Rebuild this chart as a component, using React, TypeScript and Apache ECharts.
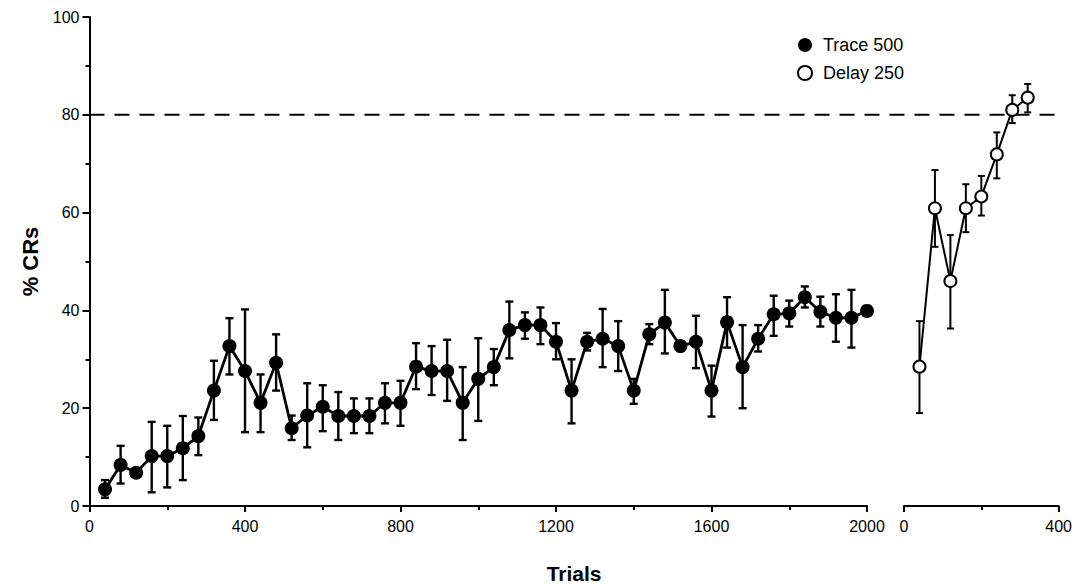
import React, { useEffect, useRef } from "react";
import * as echarts from "echarts";

// Trace 500 (left panel)
const traceTrials = [40, 80, 120, 160, 200, 240, 280, 320, 360, 400, 440, 480, 520, 560, 600, 640, 680, 720, 760, 800, 840, 880, 920, 960, 1000, 1040, 1080, 1120, 1160, 1200, 1240, 1280, 1320, 1360, 1400, 1440, 1480, 1520, 1560, 1600, 1640, 1680, 1720, 1760, 1800, 1840, 1880, 1920, 1960, 2000];
const traceMean = [3.4, 8.4, 6.8, 10.2, 10.2, 11.8, 14.3, 23.6, 32.7, 27.6, 21.1, 29.3, 15.9, 18.5, 20.3, 18.4, 18.4, 18.4, 21.1, 21.1, 28.5, 27.6, 27.6, 21.1, 26.0, 28.4, 36.0, 37.0, 37.0, 33.6, 23.6, 33.6, 34.2, 32.7, 23.6, 35.1, 37.5, 32.7, 33.6, 23.6, 37.6, 28.4, 34.2, 39.2, 39.4, 42.7, 39.7, 38.5, 38.5, 39.9];
const traceLow = [1.7, 4.6, 6.3, 2.8, 3.8, 5.3, 10.4, 17.6, 26.9, 15.1, 15.1, 23.6, 13.5, 12.0, 15.3, 13.5, 14.9, 14.9, 16.9, 16.4, 23.9, 22.7, 21.5, 13.5, 17.4, 24.7, 30.2, 34.2, 33.1, 30.0, 16.9, 31.8, 28.4, 27.6, 20.9, 33.1, 31.2, 31.8, 28.2, 18.3, 32.4, 20.0, 31.6, 34.8, 36.7, 40.6, 36.7, 33.6, 32.4, 38.9];
const traceHigh = [5.3, 12.3, 7.3, 17.2, 16.4, 18.4, 18.1, 29.7, 38.4, 40.2, 26.9, 35.1, 18.5, 25.1, 24.7, 23.3, 22.0, 22.0, 25.1, 25.6, 33.3, 32.7, 34.0, 28.4, 34.3, 32.1, 41.8, 39.6, 40.6, 37.4, 30.0, 35.4, 40.3, 37.8, 26.0, 37.2, 44.2, 33.6, 38.9, 28.7, 42.7, 37.0, 37.0, 43.0, 42.0, 44.9, 42.8, 43.3, 44.2, 40.9];

// Delay 250 (right panel)
const delayTrials = [40, 80, 120, 160, 200, 240, 280, 320];
const delayMean = [28.5, 60.9, 46.0, 60.9, 63.3, 71.9, 81.0, 83.5];
const delayLow = [19.0, 53.0, 36.3, 56.0, 59.4, 67.0, 78.3, 80.5];
const delayHigh = [37.8, 68.7, 55.4, 65.8, 67.5, 76.4, 84.0, 86.3];

const criterion = 80;
const yTitle = "% CRs";
const xTitle = "Trials";

const FONT = "'Liberation Sans', Arial, Helvetica, sans-serif";

function errorRenderer(lineWidth: number, capHalf: number) {
  return (params: any, api: any) => {
    const x = api.value(0);
    const lo = api.value(1);
    const hi = api.value(2);
    const pHi = api.coord([x, hi]);
    const pLo = api.coord([x, lo]);
    const style = { stroke: "#000", lineWidth };
    return {
      type: "group",
      children: [
        { type: "line", shape: { x1: pHi[0], y1: pHi[1], x2: pLo[0], y2: pLo[1] }, style },
        { type: "line", shape: { x1: pHi[0] - capHalf, y1: pHi[1], x2: pHi[0] + capHalf, y2: pHi[1] }, style },
        { type: "line", shape: { x1: pLo[0] - capHalf, y1: pLo[1], x2: pLo[0] + capHalf, y2: pLo[1] }, style },
      ],
    };
  };
}

export default function App() {
  const ref = useRef<HTMLDivElement>(null);
  useEffect(() => {
    if (!ref.current) return;
    const chart = echarts.init(ref.current, undefined, { renderer: "svg" });
    const axisLine = { show: true, onZero: false, lineStyle: { color: "#000", width: 2 } };
    const axisLabel = { color: "#000", fontSize: 16, fontFamily: FONT, formatter: (v: number) => String(v) };
    const option: any = {
      animation: false,
      backgroundColor: "#fff",
      textStyle: { fontFamily: FONT },
      grid: [
        { left: 89.5, top: 17, width: 777.5, height: 489 },
        { left: 904, top: 17, width: 156, height: 489 },
      ],
      xAxis: [
        {
          type: "value", gridIndex: 0, min: 0, max: 2000, interval: 400,
          axisLine, splitLine: { show: false },
          axisTick: { show: true, inside: false, length: 6, lineStyle: { color: "#000", width: 2 } },
          minorTick: { show: true, splitNumber: 2, length: 4, lineStyle: { color: "#000", width: 2 } },
          axisLabel: { ...axisLabel, margin: 12 },
        },
        {
          type: "value", gridIndex: 1, min: 0, max: 400, interval: 400,
          axisLine, splitLine: { show: false },
          axisTick: { show: true, inside: false, length: 6, lineStyle: { color: "#000", width: 2 } },
          minorTick: { show: true, splitNumber: 2, length: 4, lineStyle: { color: "#000", width: 2 } },
          axisLabel: { ...axisLabel, margin: 12 },
        },
      ],
      yAxis: [
        {
          type: "value", gridIndex: 0, min: 0, max: 100, interval: 20,
          axisLine, splitLine: { show: false },
          axisTick: { show: true, inside: false, length: 7, lineStyle: { color: "#000", width: 2 } },
          minorTick: { show: true, splitNumber: 2, length: 4, lineStyle: { color: "#000", width: 2 } },
          axisLabel: { ...axisLabel, margin: 10 },
        },
        { type: "value", gridIndex: 1, min: 0, max: 100, show: false },
      ],
      legend: {
        orient: "vertical",
        left: 797,
        top: 36,
        padding: 0,
        itemWidth: 14,
        itemHeight: 14,
        itemGap: 10,
        selectedMode: false,
        textStyle: { fontSize: 18, color: "#000", fontFamily: FONT, padding: [0, 0, 0, 6] },
        data: [
          { name: "Trace 500", icon: "circle", itemStyle: { color: "#000", borderWidth: 0 } },
          { name: "Delay 250", icon: "circle", itemStyle: { color: "#fff", borderColor: "#000", borderWidth: 2 } },
        ],
      },
      series: [
        {
          name: "Trace 500 error",
          type: "custom",
          xAxisIndex: 0, yAxisIndex: 0,
          renderItem: errorRenderer(2.4, 4),
          encode: { x: 0, y: [1, 2] },
          data: traceTrials.map((t, i) => [t, traceLow[i], traceHigh[i]]),
          z: 1,
          silent: true,
        },
        {
          name: "Trace 500",
          type: "line",
          xAxisIndex: 0, yAxisIndex: 0,
          data: traceTrials.map((t, i) => [t, traceMean[i]]),
          symbol: "circle",
          symbolSize: 14,
          lineStyle: { color: "#000", width: 2.8 },
          itemStyle: { color: "#000" },
          z: 2,
        },
        {
          name: "Delay 250 error",
          type: "custom",
          xAxisIndex: 1, yAxisIndex: 1,
          renderItem: errorRenderer(2, 3.5),
          encode: { x: 0, y: [1, 2] },
          data: delayTrials.map((t, i) => [t, delayLow[i], delayHigh[i]]),
          z: 1,
          silent: true,
        },
        {
          name: "Delay 250",
          type: "line",
          xAxisIndex: 1, yAxisIndex: 1,
          data: delayTrials.map((t, i) => [t, delayMean[i]]),
          symbol: "circle",
          symbolSize: 12,
          lineStyle: { color: "#000", width: 2 },
          itemStyle: { color: "#fff", borderColor: "#000", borderWidth: 2 },
          z: 2,
        },
      ],
    };
    chart.setOption(option);

    const xStart = chart.convertToPixel({ xAxisIndex: 0 }, 0) as number;
    const xEnd = chart.convertToPixel({ xAxisIndex: 1 }, 400) as number;
    const yCrit = chart.convertToPixel({ yAxisIndex: 0 }, criterion) as number;
    const yMid = ((chart.convertToPixel({ yAxisIndex: 0 }, 0) as number) + (chart.convertToPixel({ yAxisIndex: 0 }, 100) as number)) / 2;
    const xMid = ((chart.convertToPixel({ xAxisIndex: 0 }, 0) as number) + (chart.convertToPixel({ xAxisIndex: 1 }, 400) as number)) / 2;

    chart.setOption({
      graphic: [
        {
          type: "line",
          z: 0,
          shape: { x1: xStart, y1: yCrit, x2: xEnd, y2: yCrit },
          style: { stroke: "#000", lineWidth: 2, lineDash: [15, 10] },
          silent: true,
        },
        {
          type: "text",
          x: 30,
          y: yMid,
          rotation: Math.PI / 2,
          style: { text: yTitle, font: `bold 22px ${FONT}`, fill: "#000", textAlign: "center", textVerticalAlign: "middle" },
        },
        {
          type: "text",
          x: xMid,
          y: 573,
          style: { text: xTitle, font: `bold 21px ${FONT}`, fill: "#000", textAlign: "center", textVerticalAlign: "middle" },
        },
      ],
    });

    return () => chart.dispose();
  }, []);
  return <div ref={ref} style={{ position: "fixed", left: 0, top: 0, width: 1075, height: 584, background: "#fff" }} />;
}
